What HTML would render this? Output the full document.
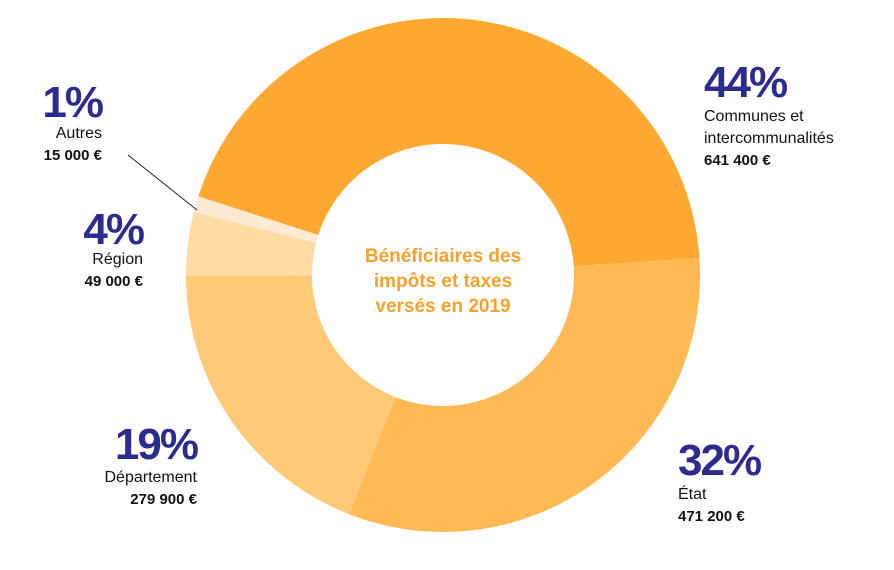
<!DOCTYPE html>
<html><head><meta charset="utf-8"><style>
body{margin:0;background:#fff;width:894px;height:570px;overflow:hidden;font-family:"Liberation Sans",sans-serif}
svg{display:block}
.pct{font-weight:bold;font-size:44px;fill:#2E2B8F;letter-spacing:-2px}
.lbl{font-size:16px;fill:#111}
.val{font-size:15px;font-weight:bold;fill:#111}
.ctr{font-size:19px;font-weight:bold;fill:#F7A12D}
</style></head><body>
<svg id="chart" width="894" height="570">
<g id="slices"></g>
<line x1="128" y1="155" x2="197" y2="210" stroke="#222" stroke-width="1"/>
<g>
<text class="ctr" x="443" y="262" text-anchor="middle">Bénéficiaires des</text>
<text class="ctr" x="443" y="287" text-anchor="middle">impôts et taxes</text>
<text class="ctr" x="443" y="312" text-anchor="middle">versés en 2019</text>
</g>
<g>
<text class="pct" x="704" y="97">44%</text>
<text class="lbl" x="704" y="121">Communes et</text>
<text class="lbl" x="704" y="143">intercommunalités</text>
<text class="val" x="704" y="165">641 400 €</text>
</g>
<g>
<text class="pct" x="678" y="475">32%</text>
<text class="lbl" x="678" y="499">État</text>
<text class="val" x="678" y="521">471 200 €</text>
</g>
<g>
<text class="pct" x="197" y="459" text-anchor="end">19%</text>
<text class="lbl" x="197" y="482" text-anchor="end">Département</text>
<text class="val" x="197" y="504" text-anchor="end">279 900 €</text>
</g>
<g>
<text class="pct" x="143" y="244" text-anchor="end">4%</text>
<text class="lbl" x="143" y="264" text-anchor="end">Région</text>
<text class="val" x="143" y="286" text-anchor="end">49 000 €</text>
</g>
<g>
<text class="pct" x="102" y="117" text-anchor="end">1%</text>
<text class="lbl" x="102" y="138" text-anchor="end">Autres</text>
<text class="val" x="102" y="160" text-anchor="end">15 000 €</text>
</g>
</svg>
<script>
const categories=["communes","etat","departement","region","autres"];
const percents=[44,32,19,4,1];
const colors=["#FFA832","#FFBA55","#FFCA78","#FFDCA3","#FFEBD3"];
const cx=443,cy=275,R=257,r=131,start=-72.2;
const total=percents.reduce((a,b)=>a+b,0);
const g=document.getElementById('slices');
function pt(a,rad){const t=(a-90)*Math.PI/180;return [cx+rad*Math.cos(t),cy+rad*Math.sin(t)];}
let a=start;
percents.forEach((v,i)=>{
const sw=v/total*360,b=a+sw,lg=sw>180?1:0;
const [x1,y1]=pt(a,R),[x2,y2]=pt(b,R),[x3,y3]=pt(b,r),[x4,y4]=pt(a,r);
const p=document.createElementNS('http://www.w3.org/2000/svg','path');
p.setAttribute('d',`M${x1},${y1}A${R},${R} 0 ${lg} 1 ${x2},${y2}L${x3},${y3}A${r},${r} 0 ${lg} 0 ${x4},${y4}Z`);
p.setAttribute('fill',colors[i]);


g.appendChild(p);a=b;});
</script>
</body></html>
